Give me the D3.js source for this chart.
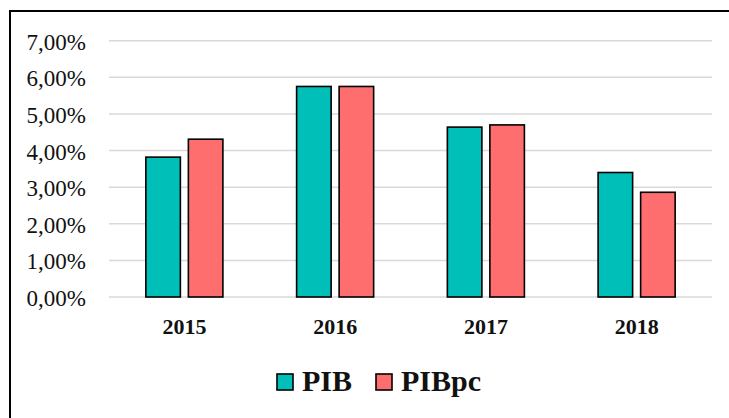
<!DOCTYPE html>
<html>
<head>
<meta charset="utf-8">
<script src="https://cdn.jsdelivr.net/npm/d3@7"></script>
<style>
  body { margin: 0; background: #fff; }
</style>
</head>
<body>
<svg class="chart"></svg>
<script>
var years  = ['2015', '2016', '2017', '2018'];
var series = ['PIB', 'PIBpc'];
var pib    = [0.0382, 0.0575, 0.0464, 0.0340];
var pibpc  = [0.0431, 0.0575, 0.0470, 0.0286];
var yTicks = [0, 0.01, 0.02, 0.03, 0.04, 0.05, 0.06, 0.07];
var colors = ['#00bfb9', '#ff6e6e'];

var width  = 729;
var height = 418;
var serif  = '"Liberation Serif", "Times New Roman", serif';

var svg = d3.select('.chart')
    .attr('width', width)
    .attr('height', height)
    .style('display', 'block');

// outer frame, runs off the right and bottom of the picture
svg.append('rect')
    .attr('x', 10).attr('y', 11)
    .attr('width', width + 20).attr('height', height + 20)
    .attr('fill', '#fff')
    .attr('stroke', '#000').attr('stroke-width', 2);

var y = d3.scaleLinear().domain([0, 0.07]).range([297, 40.7]);
var x0 = d3.scaleBand().domain(years).range([109, 712]).padding(0);
var x1 = d3.scaleBand().domain(series).range([0, x0.bandwidth()])
    .paddingInner(0.188).paddingOuter(0.867);

var fmt = function(v) { return (v * 100).toFixed(2).replace('.', ',') + '%'; };

// gridlines
svg.append('g').selectAll('line')
    .data(yTicks)
    .enter().append('line')
    .attr('x1', 109).attr('x2', 712)
    .attr('y1', function(d) { return y(d); })
    .attr('y2', function(d) { return y(d); })
    .attr('stroke', '#d9d9d9').attr('stroke-width', 1.5);

// y labels
svg.append('g').selectAll('text')
    .data(yTicks)
    .enter().append('text')
    .attr('x', 86)
    .attr('y', function(d) { return y(d) + 1.5; })
    .attr('text-anchor', 'end')
    .attr('dominant-baseline', 'central')
    .attr('font-family', serif)
    .attr('font-size', 23)
    .attr('fill', '#111')
    .text(fmt);

// bars
var rows = years.map(function(yr, i) { return {year: yr, values: [pib[i], pibpc[i]]}; });
var groups = svg.append('g').selectAll('g')
    .data(rows)
    .enter().append('g')
    .attr('transform', function(d) { return 'translate(' + x0(d.year) + ',0)'; });
groups.selectAll('rect')
    .data(function(d) { return d.values.map(function(v, j) { return {s: series[j], v: v, j: j}; }); })
    .enter().append('rect')
    .attr('x', function(d) { return x1(d.s); })
    .attr('y', function(d) { return y(d.v); })
    .attr('width', x1.bandwidth())
    .attr('height', function(d) { return y(0) - y(d.v); })
    .attr('fill', function(d) { return colors[d.j]; })
    .attr('stroke', '#000').attr('stroke-width', 1.6);

// x labels
svg.append('g').selectAll('text')
    .data(years)
    .enter().append('text')
    .attr('x', function(d) { return x0(d) + x0.bandwidth() / 2; })
    .attr('y', 334)
    .attr('text-anchor', 'middle')
    .attr('font-family', serif)
    .attr('font-size', 22)
    .attr('font-weight', 'bold')
    .attr('fill', '#111')
    .text(function(d) { return d; });

// legend
var legendX = [277, 376];
var legend = svg.append('g').selectAll('g')
    .data(series)
    .enter().append('g')
    .attr('transform', function(d, i) { return 'translate(' + legendX[i] + ',0)'; });
legend.append('rect')
    .attr('x', 0).attr('y', 374)
    .attr('width', 16).attr('height', 16)
    .attr('fill', function(d, i) { return colors[i]; })
    .attr('stroke', '#000').attr('stroke-width', 1.6);
legend.append('text')
    .attr('x', 25).attr('y', 391)
    .attr('font-family', serif)
    .attr('font-size', 30)
    .attr('font-weight', 'bold')
    .attr('fill', '#111')
    .text(function(d) { return d; });
</script>
</body>
</html>
